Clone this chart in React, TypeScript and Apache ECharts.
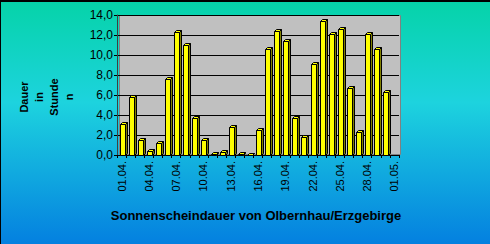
import React, { useEffect, useRef } from "react";
import * as echarts from "echarts";

const categories = [
  "01.04.", "02.04.", "03.04.", "04.04.", "05.04.", "06.04.", "07.04.", "08.04.",
  "09.04.", "10.04.", "11.04.", "12.04.", "13.04.", "14.04.", "15.04.", "16.04.",
  "17.04.", "18.04.", "19.04.", "20.04.", "21.04.", "22.04.", "23.04.", "24.04.",
  "25.04.", "26.04.", "27.04.", "28.04.", "29.04.", "30.04.", "01.05.",
];

const sunshineHours = [
  3.1, 5.8, 1.5, 0.4, 1.2, 7.6, 12.3, 11.0, 3.7, 1.5,
  0.1, 0.3, 2.8, 0.1, 0.05, 2.5, 10.6, 12.4, 11.4, 3.7,
  1.8, 9.1, 13.4, 12.1, 12.6, 6.7, 2.3, 12.1, 10.6, 6.3,
];

const yMin = 0;
const yMax = 14;
const yStep = 2;

const chartTitle = "Sonnenscheindauer von Olbernhau/Erzgebirge";
const yTitle = "Dauer\nin\nStunde\nn";

export default function App() {
  const ref = useRef<HTMLDivElement>(null);

  useEffect(() => {
    if (!ref.current) return;
    const chart = echarts.init(ref.current, undefined, { renderer: "svg" });

    const renderItem = (params: any, api: any) => {
      const idx = api.value(0);
      const val = api.value(1);
      const top = api.coord([idx, val]);
      const base = api.coord([idx, 0]);
      const cx = Math.round(top[0]) + 1;
      const ty = Math.round(top[1]) + 0.5;
      const by = Math.round(base[1]) + 0.5;
      const l = cx - 3 + 0.5;
      const r = cx + 2 + 0.5;
      const d = 2;
      const s = r + d;
      return {
        type: "group",
        children: [
          {
            type: "polygon",
            shape: { points: [[r, ty], [s, ty - d], [s, by - d], [r, by]] },
            style: { fill: "#808000", stroke: "#000", lineWidth: 1 },
          },
          {
            type: "polygon",
            shape: { points: [[l, ty], [l + d, ty - d], [s, ty - d], [r, ty]] },
            style: { fill: "#FFFF00", stroke: "#000", lineWidth: 1 },
          },
          {
            type: "rect",
            shape: { x: l, y: ty, width: r - l, height: Math.max(by - ty, 0) },
            style: { fill: "#FFFF00", stroke: "#000", lineWidth: 1 },
          },
        ],
      };
    };

    chart.setOption({
      animation: false,
      backgroundColor: new echarts.graphic.LinearGradient(0, 0, 0, 1, [
        { offset: 0, color: "#05D3A8" },
        { offset: 0.42, color: "#1DD3DE" },
        { offset: 1, color: "#0480E0" },
      ]),
      grid: { left: 117, right: 91, top: 15, bottom: 89, containLabel: false },
      xAxis: {
        type: "category",
        data: categories,
        boundaryGap: true,
        axisLine: { show: true, lineStyle: { color: "#000", width: 1 } },
        axisTick: { show: true, interval: 0, length: 3, lineStyle: { color: "#000" } },
        axisLabel: {
          interval: 2,
          rotate: 90,
          fontSize: 11,
          fontFamily: "Liberation Sans, Arial, sans-serif",
          color: "#000",
          margin: 6,
        },
        splitLine: { show: false },
      },
      yAxis: {
        type: "value",
        min: yMin,
        max: yMax,
        interval: yStep,
        axisLine: { show: true, lineStyle: { color: "#404040", width: 1 } },
        axisTick: { show: true, length: 3, lineStyle: { color: "#000" } },
        axisLabel: {
          fontSize: 12,
          fontFamily: "Liberation Sans, Arial, sans-serif",
          color: "#000",
          margin: 4,
          formatter: (v: number) => v.toFixed(1).replace(".", ","),
        },
        splitLine: { show: true, lineStyle: { color: "#000", width: 1 } },
      },
      graphic: [
        {
          type: "rect",
          z: -10,
          shape: { x: 119.5, y: 15.5, width: 281, height: 139 },
          style: { fill: "#C0C0C0", stroke: "#808080", lineWidth: 1 },
        },
        {
          type: "rect",
          z: 100,
          shape: { x: 0, y: 0, width: 490, height: 2 },
          style: { fill: "#000" },
        },
        {
          type: "rect",
          z: 100,
          shape: { x: 0, y: 0, width: 1, height: 244 },
          style: { fill: "#000" },
        },
        {
          type: "text",
          x: 46,
          y: 97,
          rotation: Math.PI / 2,
          style: {
            text: yTitle,
            fontSize: 11,
            fontWeight: "bold",
            fontFamily: "Liberation Sans, Arial, sans-serif",
            fill: "#000",
            align: "center",
            verticalAlign: "middle",
            lineHeight: 15,
          },
        },
        {
          type: "text",
          x: 256,
          y: 215,
          style: {
            text: chartTitle,
            fontSize: 13,
            fontWeight: "bold",
            fontFamily: "Liberation Sans, Arial, sans-serif",
            fill: "#000",
            align: "center",
            verticalAlign: "middle",
          },
        },
      ],
      series: [
        {
          type: "custom",
          renderItem,
          encode: { x: 0, y: 1 },
          data: sunshineHours.map((v, i) => [i, v]),
          z: 5,
        },
      ],
    });

    return () => chart.dispose();
  }, []);

  return (
    <div
      ref={ref}
      style={{ position: "absolute", left: 0, top: 0, width: 490, height: 244 }}
    />
  );
}
